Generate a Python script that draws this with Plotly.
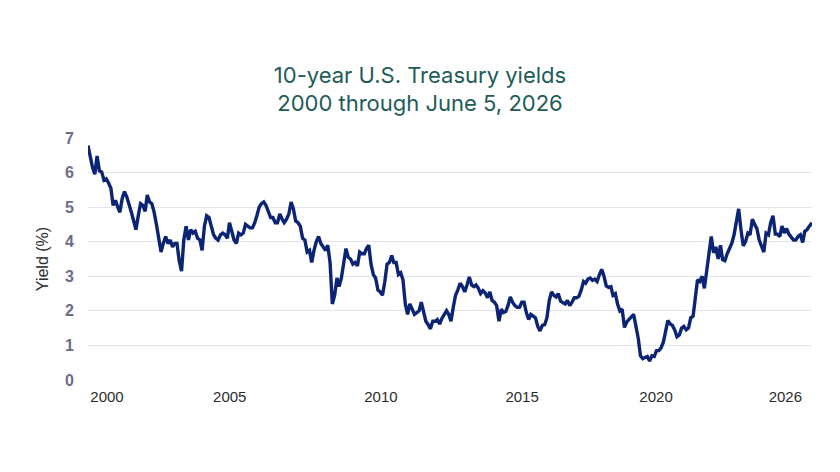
import pandas as pd
import plotly.graph_objects as go

# Monthly 10-year U.S. Treasury yields (%), Jan 2000 .. Jun 2026
yields = [
    # 2000
    6.78, 6.45, 6.15, 5.95, 6.48, 6.05, 6.02, 5.78, 5.82, 5.70, 5.55, 5.05,
    # 2001
    5.20, 5.00, 4.85, 5.25, 5.45, 5.30, 5.10, 4.85, 4.60, 4.35, 4.75, 5.10,
    # 2002
    5.05, 4.88, 5.35, 5.15, 5.10, 4.85, 4.50, 4.15, 3.70, 3.95, 4.15, 3.95,
    # 2003
    4.05, 3.85, 3.95, 3.95, 3.45, 3.15, 4.05, 4.45, 4.05, 4.35, 4.25, 4.30,
    # 2004
    4.10, 4.05, 3.75, 4.45, 4.75, 4.70, 4.45, 4.20, 4.10, 4.05, 4.20, 4.25,
    # 2005
    4.20, 4.10, 4.55, 4.25, 4.05, 3.95, 4.25, 4.20, 4.25, 4.50, 4.45, 4.40,
    # 2006
    4.40, 4.55, 4.75, 5.00, 5.10, 5.15, 5.05, 4.85, 4.70, 4.70, 4.55, 4.55,
    # 2007
    4.80, 4.65, 4.55, 4.65, 4.80, 5.15, 4.95, 4.60, 4.55, 4.45, 4.10, 4.05,
    # 2008
    3.70, 3.75, 3.40, 3.75, 4.00, 4.15, 3.95, 3.85, 3.75, 3.90, 3.40, 2.20,
    # 2009
    2.45, 2.95, 2.70, 2.95, 3.35, 3.80, 3.55, 3.50, 3.35, 3.40, 3.30, 3.70,
    # 2010
    3.65, 3.65, 3.80, 3.90, 3.35, 3.05, 2.95, 2.60, 2.55, 2.45, 2.85, 3.35,
    # 2011
    3.40, 3.60, 3.40, 3.40, 3.05, 3.10, 2.90, 2.20, 1.90, 2.20, 2.05, 1.90,
    # 2012
    1.95, 2.00, 2.25, 1.95, 1.70, 1.60, 1.48, 1.70, 1.70, 1.75, 1.62, 1.78,
    # 2013
    1.90, 2.00, 1.90, 1.70, 2.10, 2.45, 2.60, 2.80, 2.70, 2.55, 2.75, 2.98,
    # 2014
    2.75, 2.70, 2.75, 2.65, 2.50, 2.58, 2.52, 2.38, 2.55, 2.30, 2.25, 2.15,
    # 2015
    1.70, 2.05, 1.95, 1.98, 2.15, 2.40, 2.25, 2.15, 2.10, 2.10, 2.25, 2.25,
    # 2016
    1.95, 1.75, 1.90, 1.85, 1.80, 1.55, 1.42, 1.58, 1.60, 1.80, 2.30, 2.55,
    # 2017
    2.45, 2.40, 2.50, 2.28, 2.25, 2.20, 2.30, 2.15, 2.25, 2.38, 2.38, 2.42,
    # 2018
    2.60, 2.85, 2.80, 2.92, 2.95, 2.88, 2.92, 2.85, 3.05, 3.20, 3.00, 2.72,
    # 2019
    2.68, 2.70, 2.45, 2.50, 2.20, 2.00, 2.05, 1.52, 1.68, 1.75, 1.80, 1.90,
    # 2020
    1.55, 1.20, 0.70, 0.62, 0.65, 0.68, 0.55, 0.70, 0.68, 0.85, 0.85, 0.93,
    # 2021
    1.10, 1.40, 1.72, 1.62, 1.58, 1.45, 1.25, 1.30, 1.50, 1.55, 1.45, 1.50,
    # 2022
    1.80, 1.85, 2.35, 2.90, 2.85, 3.00, 2.65, 3.15, 3.80, 4.15, 3.68, 3.85,
    # 2023
    3.50, 3.90, 3.48, 3.45, 3.65, 3.82, 3.95, 4.20, 4.55, 4.95, 4.35, 3.88,
    # 2024
    4.00, 4.25, 4.20, 4.65, 4.50, 4.38, 4.05, 3.90, 3.70, 4.25, 4.20, 4.55,
    # 2025
    4.75, 4.22, 4.22, 4.15, 4.45, 4.25, 4.38, 4.22, 4.12, 4.05, 4.05, 4.15,
    # 2026
    4.20, 3.98, 4.30, 4.35, 4.45, 4.55,
]

dates = list(pd.date_range("2000-01-01", periods=len(yields) - 1, freq="MS")) + [pd.Timestamp("2026-06-05")]

tick_labels = ["2000", "2005", "2010", "2015", "2020", "2026"]
tick_dates = ["2000-09-10", "2005-03-05", "2010-09-10", "2015-11-05", "2020-09-25", "2025-06-15"]

fig = go.Figure()
fig.add_trace(go.Scatter(
    x=dates, y=yields, mode="lines",
    line=dict(color="#0b2474", width=3.4),
    hoverinfo="skip",
))

fig.update_layout(
    width=840, height=472,
    margin=dict(l=88, r=28, t=138, b=92),
    paper_bgcolor="white", plot_bgcolor="white",
    showlegend=False,
    title=dict(
        text="10-year U.S. Treasury yields<br>2000 through June 5, 2026",
        x=0.5, xref="container", xanchor="center",
        y=0.825, yref="container", yanchor="middle",
        font=dict(family="Inter", size=22, color="#1d5c58"),
    ),
)

fig.update_xaxes(
    type="date",
    range=["2000-01-01", "2026-06-05"],
    tickvals=tick_dates, ticktext=tick_labels,
    showgrid=False, zeroline=False, showline=False,
    ticks="", ticklabelstandoff=6,
    tickfont=dict(family="Liberation Sans", size=15, color="#2b2b2b"),
)

fig.update_yaxes(
    range=[0, 7], dtick=1,
    showgrid=True, gridcolor="#e4e4ec", gridwidth=1,
    zeroline=False, showline=False, ticks="",
    ticklabelstandoff=13,
    tickfont=dict(family="Liberation Sans", size=16, color="#6c6c8c", weight="bold"),
    title=dict(text="Yield (%)", standoff=12,
               font=dict(family="Liberation Sans", size=16, color="#2b2b2b")),
)

fig.write_html("out.html")
